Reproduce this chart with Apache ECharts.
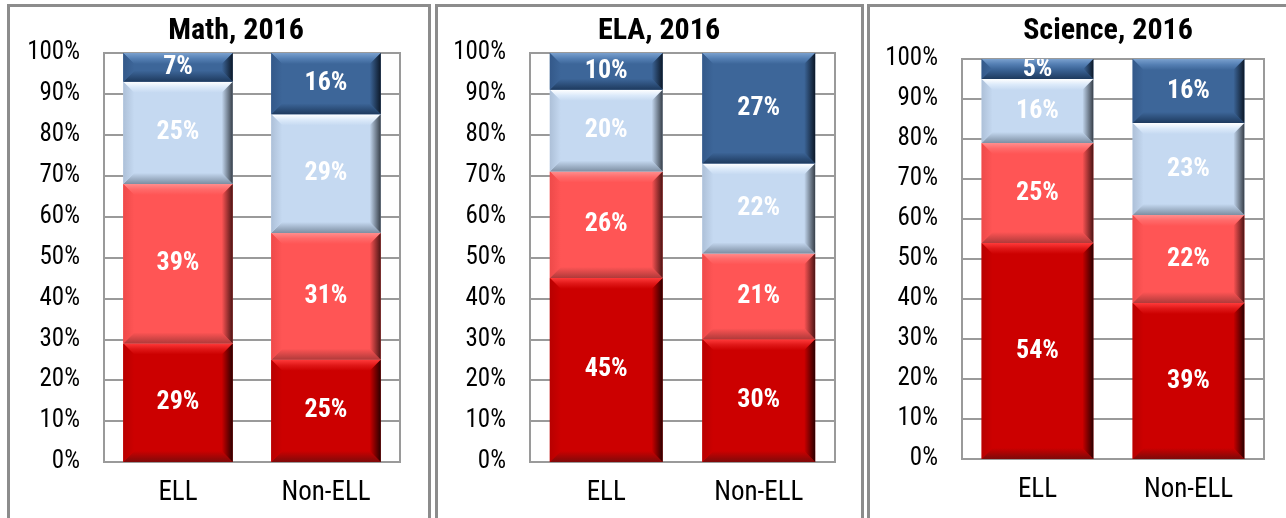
<!DOCTYPE html>
<html>
<head>
<meta charset="utf-8">
<script src="https://cdn.jsdelivr.net/npm/echarts@6/dist/echarts.min.js"></script>
<style>
html,body{margin:0;padding:0;background:#fff;}
#chart{width:1286px;height:518px;}
</style>
</head>
<body>
<div id="chart"></div>
<script>
// ---- data ----
const categories = ['ELL', 'Non-ELL'];
const titles = ['Math, 2016', 'ELA, 2016', 'Science, 2016'];
const levelNames = ['Level 1', 'Level 2', 'Level 3', 'Level 4'];

const mathLevel1 = [29, 25];
const mathLevel2 = [39, 31];
const mathLevel3 = [25, 29];
const mathLevel4 = [7, 16];

const elaLevel1 = [45, 30];
const elaLevel2 = [26, 21];
const elaLevel3 = [20, 22];
const elaLevel4 = [10, 27];

const sciLevel1 = [54, 39];
const sciLevel2 = [25, 22];
const sciLevel3 = [16, 23];
const sciLevel4 = [5, 16];

const yMax = 100;
const yInterval = 10;

// ---- styling ----
const FONT = '"Roboto Condensed", "Liberation Sans", Arial, sans-serif';
const palettes = [
  {base:'#CC0000', top:'#FF3A3A', top2:'#E01818', bottom:'#7E0A0A', left:'#B80000', right:'#2A0000'},
  {base:'#FF5555', top:'#FF8E8E', top2:'#FF6A6A', bottom:'#B03A3A', left:'#EE4A4A', right:'#4A1414'},
  {base:'#C5D9F1', top:'#FFFFFF', top2:'#DCEAFA', bottom:'#7D8EA2', left:'#ADC0D8', right:'#363E48'},
  {base:'#3D6699', top:'#7AA0CE', top2:'#5580B4', bottom:'#1E3A5E', left:'#34598A', right:'#0C1828'}
];

const subjects = [
  [mathLevel1, mathLevel2, mathLevel3, mathLevel4],
  [elaLevel1, elaLevel2, elaLevel3, elaLevel4],
  [sciLevel1, sciLevel2, sciLevel3, sciLevel4]
];

const grids = [
  {left:104, top:53, width:296, height:409},
  {left:530, top:53, width:305, height:409},
  {left:962, top:59, width:302, height:400}
];
const titlePos = [231, 654, 1103];

function grad(x0, y0, x1, y1, stops) {
  return new echarts.graphic.LinearGradient(x0, y0, x1, y1,
    stops.map((c, i) => ({offset: i / (stops.length - 1), color: c})));
}

function makeRender(pal) {
  return function (params, api) {
    const cat = api.value(0);
    const lo = api.value(1);
    const hi = Math.min(api.value(2), yMax);
    const val = api.value(3);
    const pLo = api.coord([cat, lo]);
    const pHi = api.coord([cat, hi]);
    const bw = api.size([1, 0])[0] * 0.74;
    const x0 = pLo[0] - bw / 2, x1 = pLo[0] + bw / 2;
    const yb = pLo[1], yt = pHi[1];
    const h = yb - yt;
    const b = Math.min(11, h / 2);
    const children = [
      {type:'rect', shape:{x:x0, y:yt, width:bw, height:h}, style:{fill:pal.base}},
      {type:'polygon', shape:{points:[[x0,yt],[x1,yt],[x1-b,yt+b],[x0+b,yt+b]]},
        style:{fill:grad(0,0,0,1,[pal.top,pal.top2,pal.base])}},
      {type:'polygon', shape:{points:[[x0,yb],[x1,yb],[x1-b,yb-b],[x0+b,yb-b]]},
        style:{fill:grad(0,0,0,1,[pal.base,pal.bottom])}},
      {type:'polygon', shape:{points:[[x0,yt],[x0+b,yt+b],[x0+b,yb-b],[x0,yb]]},
        style:{fill:grad(0,0,1,0,[pal.left,pal.base])}},
      {type:'polygon', shape:{points:[[x1,yt],[x1-b,yt+b],[x1-b,yb-b],[x1,yb]]},
        style:{fill:grad(0,0,1,0,[pal.base,pal.right])}},
      {type:'text', x:(x0+x1)/2, y:(yt+yb)/2,
        style:{text:val + '%', fill:'#ffffff', font:'bold 26px ' + FONT,
          align:'center', verticalAlign:'middle'}}
    ];
    return {type:'group', children:children};
  };
}

const option = {
  animation:false,
  backgroundColor:'#ffffff',
  title: titles.map((t, i) => ({
    text:t, left:titlePos[i], top:11, textAlign:'center',
    textStyle:{fontFamily:FONT, fontWeight:'bold', fontSize:30, color:'#000'}
  })),
  grid: grids.map(g => Object.assign({show:true, borderColor:'#9a9a9a', borderWidth:2, backgroundColor:'transparent'}, g)),
  xAxis: grids.map((g, i) => ({
    type:'category', gridIndex:i, data:categories,
    axisTick:{show:false},
    axisLine:{lineStyle:{color:'#9a9a9a', width:2}},
    axisLabel:{fontFamily:FONT, fontSize:27, color:'#000', margin:18}
  })),
  yAxis: grids.map((g, i) => ({
    type:'value', gridIndex:i, min:0, max:yMax, interval:yInterval,
    axisLine:{show:false}, axisTick:{show:false},
    splitLine:{lineStyle:{color:'#9a9a9a', width:2}},
    axisLabel:{formatter:'{value}%', fontFamily:FONT, fontSize:25, color:'#000', margin:24}
  })),
  graphic: [
    {type:'rect', shape:{x:8.5, y:5.5, width:421, height:600}, style:{fill:'none', stroke:'#8c8c8c', lineWidth:3}},
    {type:'rect', shape:{x:436.5, y:5.5, width:426, height:600}, style:{fill:'none', stroke:'#8c8c8c', lineWidth:3}},
    {type:'rect', shape:{x:868.5, y:5.5, width:440, height:600}, style:{fill:'none', stroke:'#8c8c8c', lineWidth:3}}
  ],
  series: []
};

subjects.forEach((levels, si) => {
  const cum = categories.map(() => 0);
  levels.forEach((arr, li) => {
    const data = arr.map((v, ci) => {
      const lo = cum[ci];
      cum[ci] += v;
      return [ci, lo, cum[ci], v];
    });
    option.series.push({
      type:'custom', name:levelNames[li], xAxisIndex:si, yAxisIndex:si,
      renderItem: makeRender(palettes[li]),
      encode:{x:0, y:[1,2]},
      clip:true,
      data:data
    });
  });
});

const chart = echarts.init(document.getElementById('chart'), null, {renderer:'canvas'});
chart.setOption(option);
</script>
</body>
</html>
